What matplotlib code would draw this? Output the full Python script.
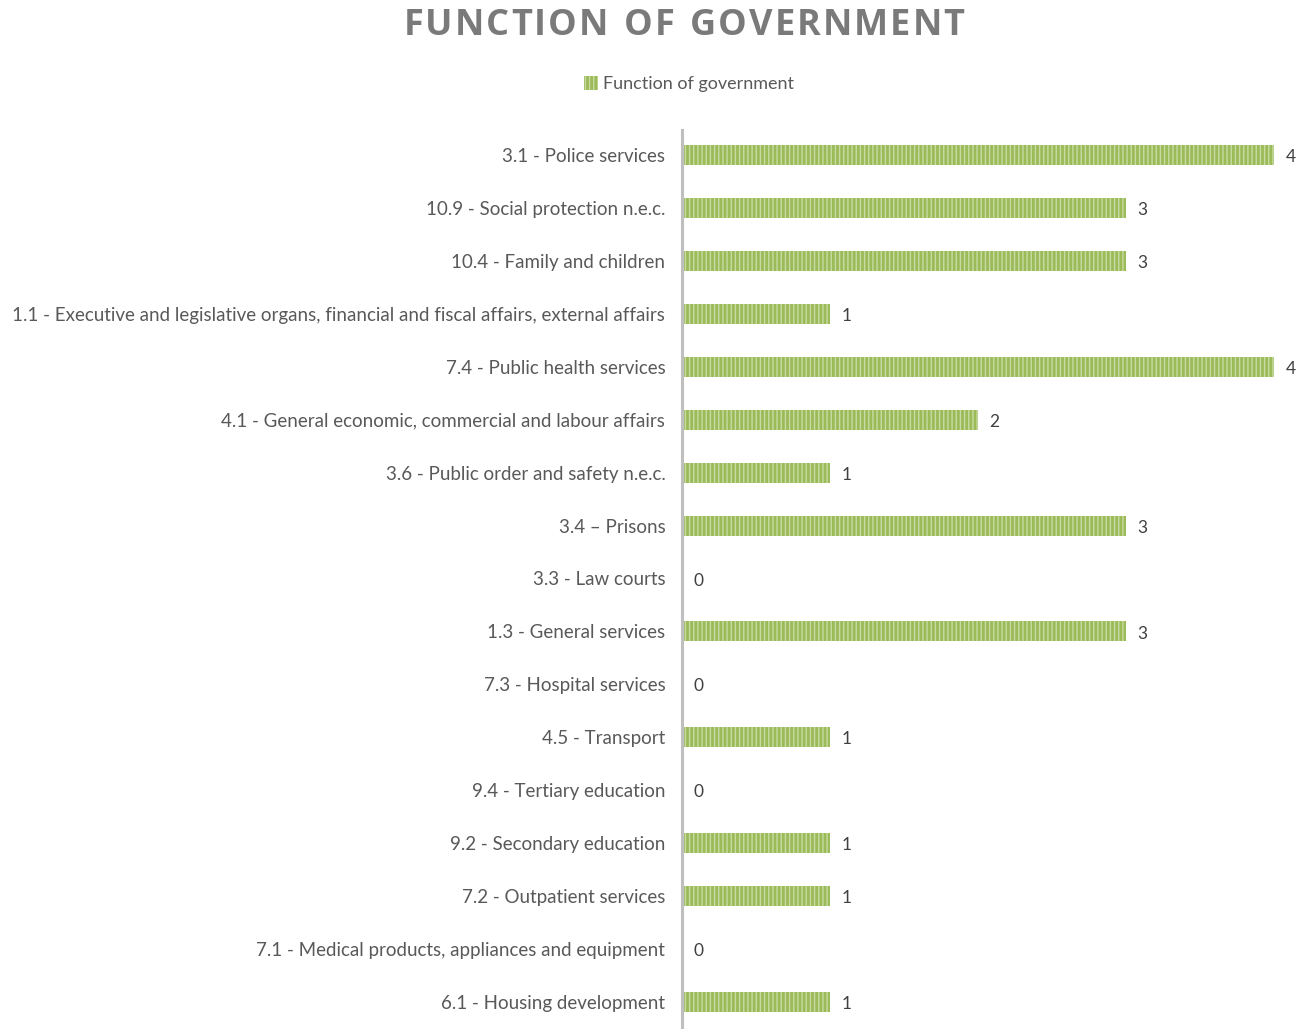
import matplotlib
matplotlib.use("Agg")
import matplotlib.pyplot as plt
from matplotlib.patches import Patch

categories = [
    "3.1 - Police services",
    "10.9 - Social protection n.e.c.",
    "10.4 - Family and children",
    "1.1 - Executive and legislative organs, financial and fiscal affairs, external affairs",
    "7.4 - Public health services",
    "4.1 - General economic, commercial and labour affairs",
    "3.6 - Public order and safety n.e.c.",
    "3.4 \u2013 Prisons",
    "3.3 - Law courts",
    "1.3 - General services",
    "7.3 - Hospital services",
    "4.5 - Transport",
    "9.4 - Tertiary education",
    "9.2 - Secondary education",
    "7.2 - Outpatient services",
    "7.1 - Medical products, appliances and equipment",
    "6.1 - Housing development",
]
values = [4, 3, 3, 1, 4, 2, 1, 3, 0, 3, 0, 1, 0, 1, 1, 0, 1]
series_name = "Function of government"
title = "FUNCTION OF GOVERNMENT"

plt.rcParams['font.family'] = ['Lato', 'DejaVu Sans']
plt.rcParams['hatch.linewidth'] = 1.0

W, H = 1310, 1029
fig = plt.figure(figsize=(W / 100, H / 100), dpi=100)
ax = fig.add_axes([682 / W, 0, 1 - 682 / W, (1029 - 130) / H])

green = '#9BBB59'
stripe = '#C9DBA3'
n = len(categories)
ypos = list(range(n))
ax.barh(ypos, values, height=0.38, color=green, edgecolor=stripe,
        hatch='||||', linewidth=0)
ax.set_xlim(0, 4.24)
ax.set_ylim(n - 1 + 27 / 52.9, -25 / 52.9)

for y, v in zip(ypos, values):
    ax.annotate(str(v), (v, y), xytext=(8, -1.5), textcoords='offset points',
                va='center', ha='left', fontsize=12.5, color='#404040')

ax.set_yticks(ypos)
ax.set_yticklabels(categories, fontsize=13.5, color='#595959')
ax.tick_params(axis='y', length=0, pad=12)
ax.set_xticks([])
for s in ['top', 'right', 'bottom']:
    ax.spines[s].set_visible(False)
ax.spines['left'].set_color('#BFBFBF')
ax.spines['left'].set_linewidth(2.2)

# letter-spaced title
fig.canvas.draw()
renderer = fig.canvas.get_renderer()
tprops = dict(fontsize=26, fontweight='bold', color='#7A7A7A',
              family=['Open Sans', 'DejaVu Sans'], va='center', ha='left')
spacing = 2.0  # px between letters
widths = []
for ch in title:
    if ch == ' ':
        t = fig.text(0, 0, 'N', **tprops)
        w = t.get_window_extent(renderer).width * 0.4
    else:
        t = fig.text(0, 0, ch, **tprops)
        w = t.get_window_extent(renderer).width
    t.remove()
    widths.append(w)
total = sum(widths) + spacing * (len(title) - 1)
x = 684 - total / 2
for ch, w in zip(title, widths):
    if ch != ' ':
        fig.text(x / W, 1 - 26 / H, ch, **tprops)
    x += w + spacing

handle = Patch(facecolor=green, edgecolor=stripe, hatch='||||', linewidth=0)
fig.legend([handle], [series_name], loc='center', bbox_to_anchor=(689 / W, 1 - 84 / H),
           frameon=False, fontsize=13, handlelength=0.8, handleheight=0.8,
           handletextpad=0.3, labelcolor='#595959')

fig.savefig("out.png", dpi=100)
